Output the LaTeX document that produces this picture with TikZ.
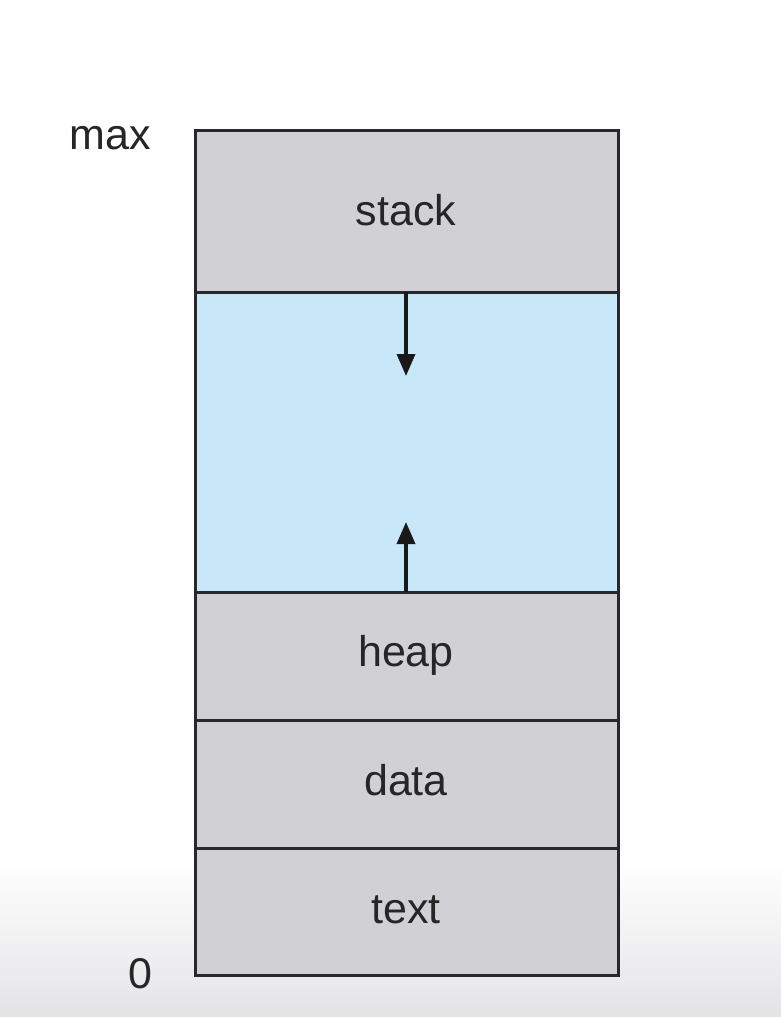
\documentclass[tikz,border=0pt]{standalone}
\usepackage{fontspec}
\setmainfont{Liberation Sans}
\usetikzlibrary{arrows.meta}
\definecolor{segfill}{RGB}{209,209,213}
\definecolor{freefill}{RGB}{200,232,250}
\definecolor{bgbottom}{RGB}{228,228,231}
\definecolor{edge}{RGB}{40,40,44}
\tikzset{
  seg/.style={draw=edge, line width=3pt, fill=segfill},
  freeseg/.style={draw=edge, line width=3pt, fill=freefill},
  lbl/.style={font=\fontsize{43}{48}\selectfont, text=black!85},
  growarrow/.style={draw=black!90, line width=3.5pt, -{Triangle[length=22pt,width=18pt]}}
}
\begin{document}
\begin{tikzpicture}[x=1pt,y=-1pt]
\useasboundingbox (0,0) rectangle (781,1017);
\fill[white] (0,0) rectangle (781,860);
\shade[top color=white, bottom color=bgbottom] (0,860) rectangle (781,1017);
% segments
\draw[seg] (195,130) rectangle (618,292);
\draw[freeseg] (195,292) rectangle (618,592);
\draw[seg] (195,592) rectangle (618,720);
\draw[seg] (195,720) rectangle (618,848);
\draw[seg] (195,848) rectangle (618,975);
\node[lbl] (stack) at (406,210) {stack};
\node[lbl] (heap) at (406,655) {heap};
\node[lbl] (data) at (406,780) {data};
\node[lbl] (text) at (406,910) {text};
\node[lbl] (max) at (110,138) {max};
\node[lbl] (zero) at (140,974) {0};
\coordinate (stackbot) at (406,292);
\coordinate (stackgrow) at (406,376);
\coordinate (heaptop) at (406,592);
\coordinate (heapgrow) at (406,522);
\draw[growarrow] (stackbot) -- (stackgrow);
\draw[growarrow] (heaptop) -- (heapgrow);
\end{tikzpicture}
\end{document}
